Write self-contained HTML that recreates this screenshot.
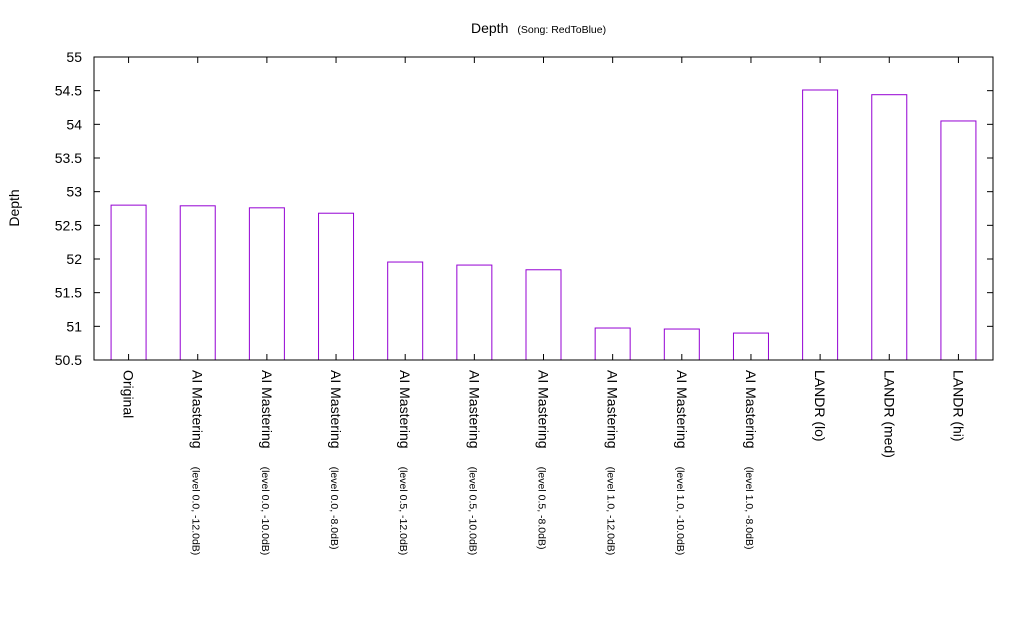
<!DOCTYPE html>
<html><head><meta charset="utf-8"><style>body{margin:0;background:#fff}svg{display:block;font-family:"Liberation Sans",Arial,sans-serif}</style></head>
<body>
<svg id="chart" width="1024" height="640"></svg>
<script>
const categories=["Original","AI Mastering","AI Mastering","AI Mastering","AI Mastering","AI Mastering","AI Mastering","AI Mastering","AI Mastering","AI Mastering","LANDR (lo)","LANDR (med)","LANDR (hi)"];
const subLabels=["","(level 0.0, -12.0dB)","(level 0.0, -10.0dB)","(level 0.0, -8.0dB)","(level 0.5, -12.0dB)","(level 0.5, -10.0dB)","(level 0.5, -8.0dB)","(level 1.0, -12.0dB)","(level 1.0, -10.0dB)","(level 1.0, -8.0dB)","","",""];
const values=[52.80,52.79,52.76,52.68,51.955,51.91,51.84,50.975,50.96,50.90,54.51,54.44,54.05];
const yTicks=[50.5,51,51.5,52,52.5,53,53.5,54,54.5,55];
const NS="http://www.w3.org/2000/svg",svg=document.getElementById('chart');
const L=94,R=993,T=57,B=360,yMin=50.5,yMax=55;
const y=v=>B-(v-yMin)/(yMax-yMin)*(B-T);
const step=(R-L)/categories.length;
const x=i=>L+step*(i+0.5);
function mk(t,a,p){const e=document.createElementNS(NS,t);for(const k in a)e.setAttribute(k,a[k]);(p||svg).appendChild(e);return e;}
let e;
e=mk('text',{x:471,y:33,'font-size':14});


e.innerHTML='Depth<tspan font-size="10.5" dx="9">(Song: RedToBlue)</tspan>';
e=mk('text',{transform:'translate(19,208) rotate(-90)','text-anchor':'middle','font-size':14});
e.textContent='Depth';


yTicks.forEach(t=>{
 const yy=y(t);
 e=mk('line',{x1:L,x2:L+6,y1:yy,y2:yy,stroke:'#000'});
 
 
 mk('line',{x1:R,x2:R-6,y1:yy,y2:yy,stroke:'#000'});
 e=mk('text',{x:82,y:yy+5,'text-anchor':'end','font-size':14});
 e.textContent=String(t);
 
 
});
values.forEach((v,i)=>{
 const cx=x(i),w=35;
 e=mk('rect',{x:cx-w/2,y:y(v),width:w,height:B-y(v),fill:'none',stroke:'#9400d3','stroke-width':1});
 
 
 e=mk('line',{x1:cx,x2:cx,y1:B,y2:B-6,stroke:'#000'});
 
 
 mk('line',{x1:cx,x2:cx,y1:T,y2:T+6,stroke:'#000'});
 e=mk('text',{transform:`translate(${cx-5},370) rotate(90)`,'font-size':14});
 e.innerHTML=categories[i]+(subLabels[i]?'<tspan font-size="10.5" dx="18">'+subLabels[i]+'</tspan>':'');
 
 
});
e=mk('rect',{x:L,y:T,width:R-L,height:B-T,fill:'none',stroke:'#000'});


</script>
</body></html>
